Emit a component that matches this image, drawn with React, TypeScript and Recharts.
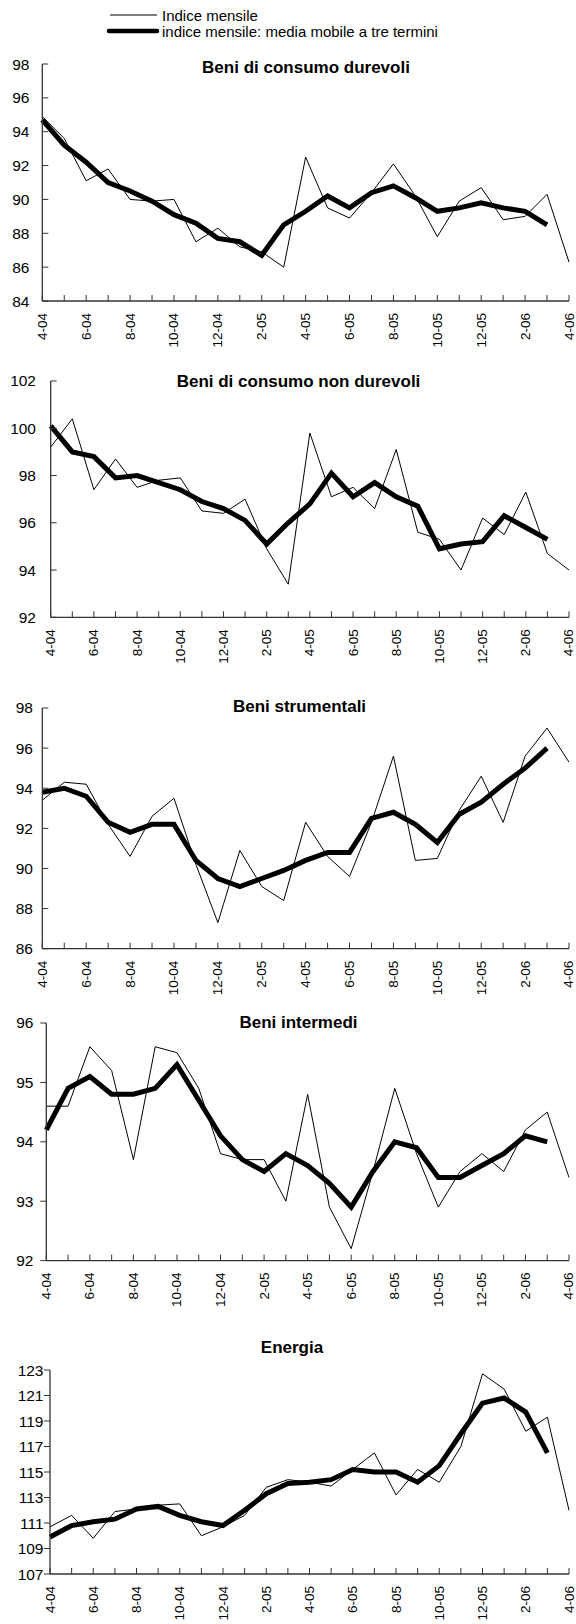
import { Line, LineChart, XAxis, YAxis } from "recharts";

const months = [
  "4-04", "5-04", "6-04", "7-04", "8-04", "9-04", "10-04", "11-04", "12-04",
  "1-05", "2-05", "3-05", "4-05", "5-05", "6-05", "7-05", "8-05", "9-05",
  "10-05", "11-05", "12-05", "1-06", "2-06", "3-06", "4-06",
];
const shownLabels = [
  "4-04", "6-04", "8-04", "10-04", "12-04", "2-05", "4-05",
  "6-05", "8-05", "10-05", "12-05", "2-06", "4-06",
];

const durevoliMensile = [94.9, 93.6, 91.1, 91.8, 90.0, 89.9, 90.0, 87.5, 88.3, 87.2, 86.9, 86.0, 92.5, 89.5, 88.9, 90.4, 92.1, 90.2, 87.8, 89.9, 90.7, 88.8, 89.0, 90.3, 86.3];
const durevoliMedia = [94.7, 93.2, 92.2, 91.0, 90.5, 89.9, 89.1, 88.6, 87.7, 87.5, 86.7, 88.5, 89.3, 90.2, 89.5, 90.4, 90.8, 90.1, 89.3, 89.5, 89.8, 89.5, 89.3, 88.5, null];

const nonDurevoliMensile = [99.2, 100.4, 97.4, 98.7, 97.5, 97.8, 97.9, 96.5, 96.4, 97.0, 94.9, 93.4, 99.8, 97.1, 97.5, 96.6, 99.1, 95.6, 95.3, 94.0, 96.2, 95.5, 97.3, 94.7, 94.0];
const nonDurevoliMedia = [100.1, 99.0, 98.8, 97.9, 98.0, 97.7, 97.4, 96.9, 96.6, 96.1, 95.1, 96.0, 96.8, 98.1, 97.1, 97.7, 97.1, 96.7, 94.9, 95.1, 95.2, 96.3, 95.8, 95.3, null];

const strumentaliMensile = [93.4, 94.3, 94.2, 92.2, 90.6, 92.6, 93.5, 90.2, 87.3, 90.9, 89.1, 88.4, 92.3, 90.6, 89.6, 92.3, 95.6, 90.4, 90.5, 92.9, 94.6, 92.3, 95.6, 97.0, 95.3];
const strumentaliMedia = [93.8, 94.0, 93.6, 92.3, 91.8, 92.2, 92.2, 90.4, 89.5, 89.1, 89.5, 89.9, 90.4, 90.8, 90.8, 92.5, 92.8, 92.2, 91.3, 92.7, 93.3, 94.2, 95.0, 96.0, null];

const intermediMensile = [94.6, 94.6, 95.6, 95.2, 93.7, 95.6, 95.5, 94.9, 93.8, 93.7, 93.7, 93.0, 94.8, 92.9, 92.2, 93.5, 94.9, 93.8, 92.9, 93.5, 93.8, 93.5, 94.2, 94.5, 93.4];
const intermediMedia = [94.2, 94.9, 95.1, 94.8, 94.8, 94.9, 95.3, 94.7, 94.1, 93.7, 93.5, 93.8, 93.6, 93.3, 92.9, 93.5, 94.0, 93.9, 93.4, 93.4, 93.6, 93.8, 94.1, 94.0, null];

const energiaMensile = [110.7, 111.6, 109.8, 111.9, 112.1, 112.4, 112.5, 110.0, 110.7, 111.6, 113.8, 114.4, 114.2, 113.9, 115.2, 116.5, 113.2, 115.2, 114.2, 117.0, 122.7, 121.5, 118.2, 119.3, 112.0];
const energiaMedia = [109.9, 110.8, 111.1, 111.3, 112.1, 112.3, 111.6, 111.1, 110.8, 112.0, 113.3, 114.1, 114.2, 114.4, 115.2, 115.0, 115.0, 114.2, 115.5, 118.0, 120.4, 120.8, 119.7, 116.5, null];

const FONT = "'Liberation Sans', Arial, sans-serif";
const AXIS = "#333";
const MARGIN_TOP = 12;
const XAXIS_H = 50;

type PanelProps = {
  title: string;
  monthly: number[];
  average: (number | null)[];
  domain: [number, number];
  ticks: number[];
  top: number;
  bottom: number;
  axisX: number;
  labelRight: number;
  titleX: number;
  titleY: number;
  inward: boolean;
};

function Panel(p: PanelProps) {
  const data = months.map((m, i) => ({ month: m, mensile: p.monthly[i], media: p.average[i] }));
  const height = p.bottom - p.top + MARGIN_TOP + XAXIS_H;

  // y ticks: short tick line (inside or outside the axis) plus the label
  const renderYTick = (props: any) => {
    const { x, y, payload } = props;
    return (
      <g>
        <line x1={x} x2={p.inward ? x + 6 : x - 6} y1={y} y2={y} stroke={AXIS} />
        <text x={p.labelRight} y={y} textAnchor="end" dominantBaseline="central" fontSize={15.5} fontFamily={FONT} fill="#000">
          {payload.value}
        </text>
      </g>
    );
  };

  // x ticks on every month, labels only every other month, rotated
  const renderXTick = (props: any) => {
    const { x, y, payload } = props;
    return (
      <g>
        <line x1={x} x2={x} y1={y} y2={y - 6} stroke={AXIS} />
        {shownLabels.includes(payload.value) && (
          <text
            transform={`translate(${x},${y + 12}) rotate(-90)`}
            textAnchor="end"
            dominantBaseline="central"
            fontSize={13.5}
            fontFamily={FONT}
            fill="#000"
          >
            {payload.value}
          </text>
        )}
      </g>
    );
  };

  return (
    <>
      <div style={{ position: "absolute", left: 0, top: p.top - MARGIN_TOP }}>
        <LineChart width={576} height={height} data={data} margin={{ top: MARGIN_TOP, right: 7, bottom: 0, left: 0 }}>
          <XAxis
            dataKey="month"
            interval={0}
            height={XAXIS_H}
            tickSize={0}
            tickMargin={0}
            tickLine={false}
            axisLine={{ stroke: AXIS, strokeWidth: 1.3 }}
            tick={renderXTick}
          />
          <YAxis
            domain={p.domain}
            ticks={p.ticks}
            width={p.axisX}
            tickSize={0}
            tickMargin={0}
            tickLine={false}
            axisLine={{ stroke: AXIS, strokeWidth: 1.3 }}
            tick={renderYTick}
            allowDataOverflow
          />
          <Line dataKey="mensile" stroke="#000" strokeWidth={1} dot={false} isAnimationActive={false} />
          <Line dataKey="media" stroke="#000" strokeWidth={5} dot={false} isAnimationActive={false} />
        </LineChart>
      </div>
      <div
        style={{
          position: "absolute",
          left: p.titleX,
          top: p.titleY,
          transform: "translate(-50%, -50%)",
          whiteSpace: "nowrap",
          fontFamily: FONT,
          fontWeight: "bold",
          fontSize: 17,
        }}
      >
        {p.title}
      </div>
    </>
  );
}

export default function App() {
  return (
    <div style={{ position: "absolute", left: 0, top: 0, width: 576, height: 1624, background: "#fff" }}>
      <svg width={576} height={45} style={{ position: "absolute", left: 0, top: 0 }}>
        <line x1={110} x2={157} y1={15} y2={15} stroke="#000" strokeWidth={1} />
        <text x={162} y={15} dominantBaseline="central" fontSize={15} fontFamily={FONT}>Indice mensile</text>
        <line x1={109} x2={157} y1={31} y2={31} stroke="#000" strokeWidth={4.5} strokeLinecap="round" />
        <text x={162} y={31} dominantBaseline="central" fontSize={15} fontFamily={FONT}>indice mensile: media mobile a tre termini</text>
      </svg>
      <Panel title="Beni di consumo durevoli" monthly={durevoliMensile} average={durevoliMedia}
        domain={[84, 98]} ticks={[84, 86, 88, 90, 92, 94, 96, 98]}
        top={64.3} bottom={301.3} axisX={42.3} labelRight={29.5} titleX={306} titleY={68} inward />
      <Panel title="Beni di consumo non durevoli" monthly={nonDurevoliMensile} average={nonDurevoliMedia}
        domain={[92, 102]} ticks={[92, 94, 96, 98, 100, 102]}
        top={380.7} bottom={617} axisX={50.7} labelRight={36} titleX={298.5} titleY={382} inward />
      <Panel title="Beni strumentali" monthly={strumentaliMensile} average={strumentaliMedia}
        domain={[86, 98]} ticks={[86, 88, 90, 92, 94, 96, 98]}
        top={708.3} bottom={949} axisX={42.3} labelRight={33} titleX={299.5} titleY={706.7} inward />
      <Panel title="Beni intermedi" monthly={intermediMensile} average={intermediMedia}
        domain={[92, 96]} ticks={[92, 93, 94, 95, 96]}
        top={1022.7} bottom={1260.3} axisX={46.3} labelRight={33.5} titleX={298.5} titleY={1023} inward={false} />
      <Panel title="Energia" monthly={energiaMensile} average={energiaMedia}
        domain={[107, 123]} ticks={[107, 109, 111, 113, 115, 117, 119, 121, 123]}
        top={1370} bottom={1574} axisX={50} labelRight={43.5} titleX={292} titleY={1347.7} inward={false} />
    </div>
  );
}
